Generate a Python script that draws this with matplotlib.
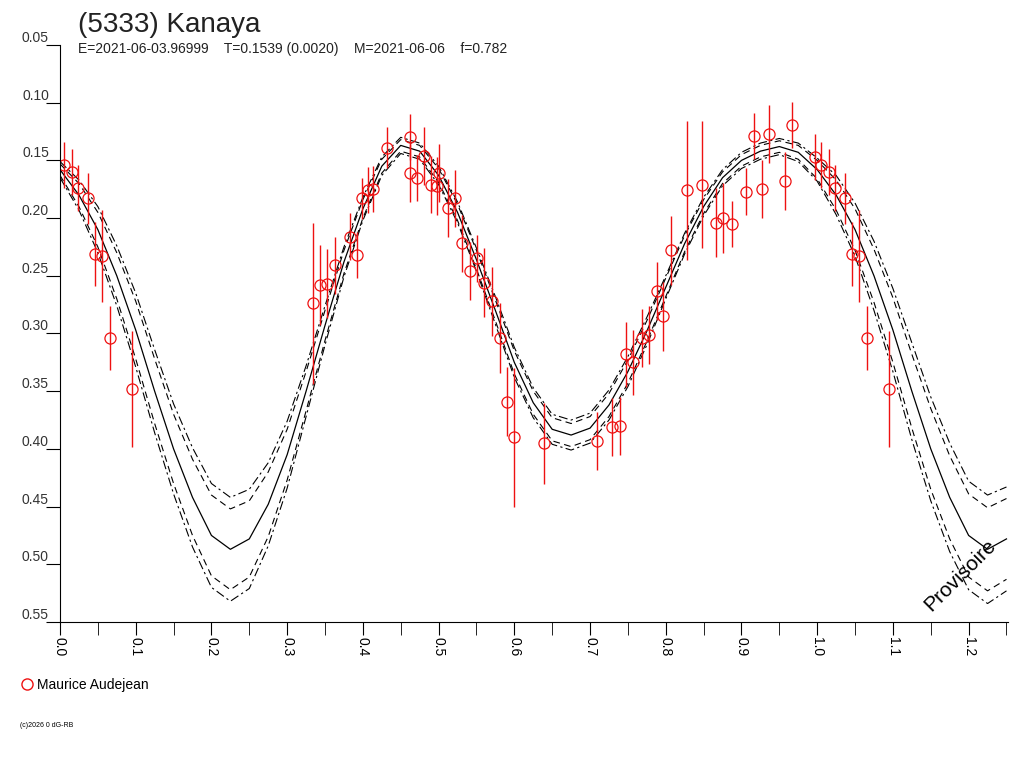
import numpy as np
import matplotlib.pyplot as plt

plt.rcParams['font.family'] = ['Liberation Sans', 'DejaVu Sans']

# fitted light curve (solid), sampled every 0.025 in phase
curve_phase = np.arange(51) * 0.025
curve_mag = [0.158, 0.180, 0.210, 0.250, 0.297, 0.350, 0.400, 0.442, 0.475, 0.487,
             0.478, 0.448, 0.405, 0.350, 0.293, 0.238, 0.192, 0.155, 0.137, 0.142,
             0.163, 0.195, 0.236, 0.280, 0.325, 0.360, 0.383, 0.388, 0.382, 0.362,
             0.333, 0.298, 0.260, 0.222, 0.190, 0.165, 0.150, 0.142, 0.138, 0.143,
             0.158, 0.180, 0.210, 0.250, 0.297, 0.350, 0.400, 0.442, 0.475, 0.487,
             0.478]
# half-width of the dashed envelope at the same phases
dash_width = [0.005, 0.010, 0.015, 0.020, 0.025, 0.028, 0.030, 0.033, 0.035, 0.035,
              0.033, 0.028, 0.022, 0.017, 0.013, 0.010, 0.008, 0.006, 0.005, 0.005,
              0.006, 0.007, 0.008, 0.009, 0.010, 0.010, 0.010, 0.010, 0.010, 0.010,
              0.010, 0.009, 0.008, 0.007, 0.006, 0.005, 0.005, 0.005, 0.005, 0.006,
              0.008, 0.013, 0.018, 0.023, 0.028, 0.032, 0.035, 0.036, 0.036, 0.036,
              0.035]
# half-width of the dash-dot envelope
dashdot_width = [0.007, 0.013, 0.020, 0.026, 0.032, 0.036, 0.039, 0.043, 0.045, 0.045,
                 0.043, 0.036, 0.029, 0.022, 0.017, 0.013, 0.010, 0.008, 0.007, 0.007,
                 0.008, 0.009, 0.010, 0.012, 0.013, 0.013, 0.013, 0.013, 0.013, 0.013,
                 0.013, 0.012, 0.010, 0.009, 0.008, 0.007, 0.007, 0.007, 0.007, 0.008,
                 0.010, 0.017, 0.023, 0.030, 0.036, 0.042, 0.045, 0.047, 0.047, 0.047,
                 0.045]

# observations: phase, magnitude, error
obs_phase = [0.005, 0.016, 0.024, 0.037, 0.046, 0.055, 0.066, 0.095, 0.334, 0.343,
             0.353, 0.363, 0.383, 0.392, 0.399, 0.407, 0.413, 0.432, 0.462, 0.462,
             0.472, 0.481, 0.490, 0.498, 0.501, 0.513, 0.522, 0.531, 0.542, 0.551,
             0.560, 0.571, 0.581, 0.590, 0.600, 0.639, 0.709, 0.729, 0.740, 0.748,
             0.757, 0.768, 0.778, 0.789, 0.797, 0.807, 0.828, 0.848, 0.867, 0.875,
             0.888, 0.906, 0.917, 0.927, 0.937, 0.958, 0.967, 0.997]
obs_mag = [0.154, 0.160, 0.174, 0.183, 0.231, 0.233, 0.304, 0.348, 0.274, 0.258,
           0.257, 0.241, 0.216, 0.232, 0.183, 0.176, 0.175, 0.139, 0.161, 0.130,
           0.165, 0.146, 0.171, 0.172, 0.161, 0.191, 0.183, 0.222, 0.246, 0.235,
           0.256, 0.272, 0.304, 0.359, 0.390, 0.395, 0.393, 0.381, 0.380, 0.318,
           0.325, 0.304, 0.301, 0.263, 0.285, 0.228, 0.176, 0.171, 0.204, 0.200,
           0.205, 0.177, 0.129, 0.175, 0.127, 0.168, 0.119, 0.147]
obs_err = [0.020, 0.020, 0.020, 0.022, 0.028, 0.040, 0.028, 0.050, 0.070, 0.035,
           0.030, 0.025, 0.020, 0.020, 0.018, 0.020, 0.020, 0.018, 0.025, 0.020,
           0.020, 0.025, 0.025, 0.025, 0.025, 0.025, 0.025, 0.025, 0.025, 0.020,
           0.030, 0.030, 0.030, 0.030, 0.060, 0.035, 0.025, 0.025, 0.025, 0.028,
           0.028, 0.025, 0.025, 0.025, 0.030, 0.030, 0.060, 0.055, 0.030, 0.030,
           0.020, 0.020, 0.020, 0.025, 0.025, 0.025, 0.020, 0.020]

fig = plt.figure(figsize=(10.24, 7.68), dpi=100)
ax = fig.add_axes([60/1024, 146/768, 948/1024, 577/768])

cm = np.array(curve_mag)
ax.plot(curve_phase, cm, color='black', lw=0.9)
for w, ls in [(np.array(dash_width), (0, (6, 4))),
              (np.array(dashdot_width), (0, (8, 3, 2, 3)))]:
    ax.plot(curve_phase, cm - w, color='black', lw=0.8, ls=ls)
    ax.plot(curve_phase, cm + w, color='black', lw=0.8, ls=ls)

ph = np.array(obs_phase)
mg = np.array(obs_mag)
er = np.array(obs_err)
for shift in (0.0, 1.0):
    ax.errorbar(ph + shift, mg, yerr=er, fmt='o', ms=8, mfc='none', mec='#ee1111',
                ecolor='#ee1111', elinewidth=1, mew=0.9, capsize=0)

ax.set_xlim(0, 1.252)
ax.set_ylim(0.55, 0.05)
for s in ['top', 'right']:
    ax.spines[s].set_visible(False)
ax.set_xticks(np.arange(0, 1.26, 0.1))
ax.set_xticklabels([f'{v:.1f}' for v in np.arange(0, 1.26, 0.1)], rotation=-90,
                   fontsize=10)
ax.set_xticks(np.arange(0.05, 1.26, 0.1), minor=True)
ax.tick_params(axis='x', which='both', direction='out', length=9, pad=2)
ax.set_yticks(np.arange(0.05, 0.56, 0.05))
ax.set_yticklabels([f'{v:.2f}' for v in np.arange(0.05, 0.56, 0.05)], fontsize=10,
                   va='bottom', color='#333333')
ax.tick_params(axis='y', direction='out', length=10, pad=-2)

fig.text(78/1024, 1 - 32/768, '(5333) Kanaya', fontsize=20, va='baseline',
         color='#222222')
fig.text(78/1024, 1 - 53/768,
         'E=2021-06-03.96999    T=0.1539 (0.0020)    M=2021-06-06    f=0.782',
         fontsize=10, va='baseline', color='#222222')
fig.text(960/1024, 1 - 575/768, 'Provisoire', fontsize=15, rotation=45,
         ha='center', va='center')
ax.plot([], [], 'o', ms=8, mfc='none', mec='#ee1111', label='Maurice Audejean')
fig.legend(loc='upper left', bbox_to_anchor=(8/1024, 1 - 665/768), frameon=False,
           fontsize=10, handletextpad=0.2, handlelength=1)
fig.text(20/1024, 1 - 727/768, '(c)2026 0 dG-RB', fontsize=5)

fig.savefig('out.png', dpi=100)
